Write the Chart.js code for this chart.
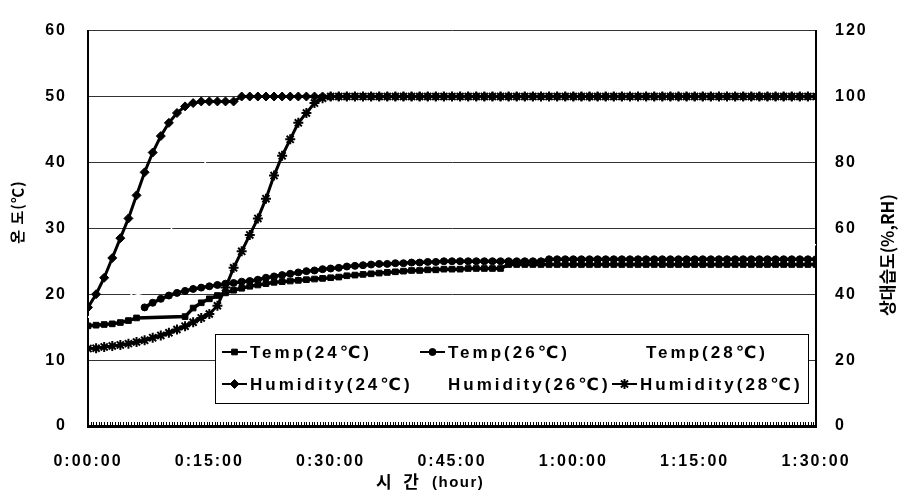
<!DOCTYPE html>
<html>
<head>
<meta charset="utf-8">
<script src="https://cdn.jsdelivr.net/npm/chart.js@4/dist/chart.umd.min.js"></script>
<style>
  html, body { margin: 0; padding: 0; background: #fff; }
  canvas { display: block; }
</style>
</head>
<body>
<canvas id="chart" width="900" height="496"></canvas>
<script>
// elapsed time in minutes
const minutes = [0,1,2,3,4,5,6,7,8,9,10,11,12,13,14,15,16,17,18,19,20,21,22,23,24,25,26,27,28,29,30,31,32,33,34,35,36,37,38,39,40,41,42,43,44,45,46,47,48,49,50,51,52,53,54,55,56,57,58,59,60,61,62,63,64,65,66,67,68,69,70,71,72,73,74,75,76,77,78,79,80,81,82,83,84,85,86,87,88,89,90];

// temperature, left axis (℃)
const temp24 = [15.2,15.3,15.4,15.5,15.7,16.0,16.4,null,null,null,null,null,16.6,17.9,18.7,19.3,19.8,20.2,20.6,20.9,
  21.2,21.4,21.6,21.8,21.9,22.0,22.1,22.2,22.3,22.4,22.5,22.6,22.8,22.9,23.0,23.1,23.2,23.3,23.4,23.5,
  23.6,23.6,23.7,23.7,23.8,23.8,23.8,23.9,23.9,23.9,23.9,23.9,
  24.5,24.5,24.5,24.5,24.5,24.5,24.5,24.5,24.5,24.5,
  24.5,24.5,24.5,24.5,24.5,24.5,24.5,24.5,24.5,24.5,
  24.5,24.5,24.5,24.5,24.5,24.5,24.5,24.5,24.5,24.5,
  24.5,24.5,24.5,24.5,24.5,24.5,24.5,24.5,24.5];
const temp26 = [null,null,null,null,null,null,null,
  18.0,18.7,19.3,19.8,20.2,20.5,20.8,21.0,21.2,21.4,
  21.6,21.7,21.9,22.0,22.2,22.5,22.7,22.9,23.1,23.3,
  23.5,23.6,23.8,23.9,24.0,24.2,24.3,24.4,24.5,24.6,
  24.6,24.7,24.7,24.8,24.8,24.9,24.9,25.0,25.0,25.0,
  25.0,25.0,25.0,25.0,25.0,25.0,25.0,25.0,25.0,25.0,
  25.3,25.3,25.3,25.3,25.3,25.3,25.3,25.3,25.3,25.3,
  25.3,25.3,25.3,25.3,25.3,25.3,25.3,25.3,25.3,25.3,
  25.3,25.3,25.3,25.3,25.3,25.3,25.3,25.3,25.3,25.3,
  25.3,25.3,25.3,25.3];
const temp28 = [16.5,17.3,18.0,18.6,19.1,19.5,19.9,20.2,20.5,20.7,20.9,
  21.1,21.3,21.5,21.6,21.8,21.9,22.0,22.1,22.2,22.3,
  22.4,22.5,22.6,22.7,22.8,22.9,23.0,23.1,23.2,23.3,
  23.5,23.7,23.9,24.2,24.5,24.9,25.3,25.6,25.9,26.1,
  26.3,26.4,26.5,26.6,26.7,26.8,26.9,27.0,27.0,27.1,
  27.1,27.2,27.2,27.3,27.3,27.3,27.4,27.4,27.4,27.4,
  27.5,27.5,27.5,27.5,27.5,27.5,27.5,27.5,27.5,27.5,
  27.5,27.5,27.5,27.5,27.5,27.5,27.5,27.5,27.5,27.5,
  27.5,27.5,27.5,27.5,27.5,27.5,27.5,27.5,27.5,27.5];

// relative humidity, right axis (%RH)
const hum24 = [36,40,45,51,57,63,70,77,83,88,92,95,97,98,98.5,98.5,98.5,98.5,98.5,
  100,100,100,100,100,100,100,100,100,100,
  100,100,100,100,100,100,100,100,100,100,
  100,100,100,100,100,100,100,100,100,100,
  100,100,100,100,100,100,100,100,100,100,
  100,100,100,100,100,100,100,100,100,100,
  100,100,100,100,100,100,100,100,100,100,
  100,100,100,100,100,100,100,100,100,100,
  100,100];
const hum26 = [33,34,35,36,37.5,39,41.5,45,49,54,58.5,63,68,73,78,82,85,88,90.5,92.5,94,95.5,96.5,97.5,98.5,99.5,
  100,100,100,100,100,100,100,100,100,100,
  100,100,100,100,100,100,100,100,100,100,
  100,100,100,100,100,100,100,100,100,100,
  100,100,100,100,100,100,100,100,100,100,
  100,100,100,100,100,100,100,100,100,100,
  100,100,100,100,100,100,100,100,100,100,
  100,100,100,100,100];
const hum28 = [23.5,23.6,24,24.3,24.6,25,25.5,26,26.8,27.5,28.3,29.3,30.3,31.5,32.8,34,36.5,42,48,53,
  58,63,69,76,82,87,92,95,98,99.5,
  100,100,100,100,100,100,100,100,100,100,
  100,100,100,100,100,100,100,100,100,100,
  100,100,100,100,100,100,100,100,100,100,
  100,100,100,100,100,100,100,100,100,100,
  100,100,100,100,100,100,100,100,100,100,
  100,100,100,100,100,100,100,100,100,100,
  100];

const seriesNames = ['Temp(24℃)', 'Temp(26℃)', 'Temp(28℃)', 'Humidity(24℃)', 'Humidity(26℃)', 'Humidity(28℃)'];
const xTickStep = 15;
const leftTitle = '온 도(℃)';
const rightTitle = '상대습도(%,RH)';

function fmtTime(m) {
  const h = Math.floor(m / 60);
  const mm = m % 60;
  return h + ':' + String(mm).padStart(2, '0') + ':00';
}

function pts(values) {
  return values.map((v, i) => ({ x: minutes[i], y: v }));
}

const tickFont = { family: '"Liberation Sans", Arial, sans-serif', size: 16, weight: 'bold' };
const SPACING = '2px';

function series(label, values, axis, style, extra) {
  return Object.assign({
    label: label,
    data: pts(values),
    yAxisID: axis,
    borderColor: '#000',
    backgroundColor: '#000',
    borderWidth: 3.5,
    pointStyle: style,
    pointRadius: 4,
    pointBorderWidth: 1,
    pointHoverRadius: 0,
    tension: 0,
    order: 1
  }, extra || {});
}

function ghost(label, values, axis) {
  return {
    label: label,
    data: pts(values),
    yAxisID: axis,
    borderColor: '#fff',
    backgroundColor: '#fff',
    borderWidth: 1.5,
    pointRadius: 0,
    order: 5
  };
}

const chartDecor = {
  id: 'chartDecor',
  beforeLayout(chart) { chart.ctx.letterSpacing = SPACING; },
  beforeDraw(chart) { chart.ctx.letterSpacing = SPACING; },
  afterDraw(chart) {
    const ctx = chart.ctx;
    const xs = chart.scales.x;
    const area = chart.chartArea;

    // small inside tick marks along the time axis
    ctx.save();
    ctx.strokeStyle = '#000';
    ctx.lineWidth = 1;
    ctx.beginPath();
    for (let k = 0; k <= 270; k++) {
      const px = Math.round(xs.getPixelForValue(k / 3)) + 0.5;
      ctx.moveTo(px, area.bottom);
      ctx.lineTo(px, area.bottom - 4);
    }
    ctx.stroke();
    ctx.restore();

    // legend box inside the plot
    ctx.save();
    ctx.letterSpacing = '3px';
    ctx.fillStyle = '#fff';
    ctx.fillRect(215, 334, 593, 69);
    ctx.strokeStyle = '#000';
    ctx.lineWidth = 1;
    ctx.strokeRect(215.5, 334.5, 593, 69);
    const slots = [[222, 352], [420, 352], [618, 352], [222, 384], [420, 384], [612, 384]];
    ctx.font = 'bold 17px "Liberation Sans", "DejaVu Sans", sans-serif';
    ctx.textBaseline = 'middle';
    chart.data.datasets.forEach((ds, i) => {
      const [sx, sy] = slots[i];
      ctx.strokeStyle = ds.borderColor;
      ctx.fillStyle = ds.borderColor;
      ctx.lineWidth = 2;
      ctx.beginPath();
      ctx.moveTo(sx, sy);
      ctx.lineTo(sx + 25, sy);
      ctx.stroke();
      if (ds.pointRadius > 0) {
        ctx.lineWidth = ds.pointBorderWidth || 1;
        Chart.helpers.drawPoint(ctx, { pointStyle: ds.pointStyle, radius: ds.pointRadius, borderWidth: ds.pointBorderWidth || 1 }, sx + 12.5, sy);
      }
      ctx.fillStyle = '#000';
      ctx.fillText(ds.label, sx + 28, sy + 1);
    });
    ctx.restore();

    // axis titles
    ctx.save();
    ctx.letterSpacing = '1px';
    ctx.fillStyle = '#000';
    ctx.textAlign = 'center';
    ctx.textBaseline = 'middle';
    ctx.font = 'bold 15px "Noto Sans CJK KR", sans-serif';
    ctx.translate(17, 212);
    ctx.rotate(-Math.PI / 2);
    ctx.fillText(leftTitle, 0, 0);
    ctx.restore();

    ctx.save();
    ctx.letterSpacing = '0px';
    ctx.fillStyle = '#000';
    ctx.textAlign = 'center';
    ctx.textBaseline = 'middle';
    ctx.font = 'bold 17px "Noto Sans CJK KR", sans-serif';
    ctx.translate(888, 255);
    ctx.rotate(-Math.PI / 2);
    ctx.fillText(rightTitle, 0, 0);
    ctx.restore();

    ctx.save();
    ctx.letterSpacing = '0px';
    ctx.fillStyle = '#000';
    ctx.textBaseline = 'middle';
    ctx.textAlign = 'left';
    ctx.font = 'bold 17px "Noto Sans CJK KR", sans-serif';
    ctx.fillText('시   간', 376, 482);
    ctx.letterSpacing = '1.5px';
    ctx.font = 'bold 15px "Liberation Sans", sans-serif';
    ctx.fillText('(hour)', 432, 483);
    ctx.restore();
  }
};

new Chart(document.getElementById('chart'), {
  type: 'line',
  data: {
    datasets: [
      series(seriesNames[0], temp24, 'y', 'rect', { spanGaps: true }),
      series(seriesNames[1], temp26, 'y', 'circle', { pointRadius: 3.5 }),
      ghost(seriesNames[2], temp28, 'y'),
      series(seriesNames[3], hum24, 'y1', 'rectRot', { pointRadius: 4.5, borderWidth: 3 }),
      ghost(seriesNames[4], hum26, 'y1'),
      series(seriesNames[5], hum28, 'y1', 'star', { pointRadius: 5, pointBorderWidth: 2, borderWidth: 3 })
    ]
  },
  options: {
    responsive: false,
    animation: false,
    events: [],
    layout: { padding: { top: 16, left: 0, right: 0, bottom: 0 } },
    plugins: {
      legend: { display: false },
      tooltip: { enabled: false }
    },
    scales: {
      x: {
        type: 'linear',
        min: 0,
        max: 90,
        afterFit(scale) { scale.height = 70; },
        grid: { display: false },
        border: { display: true, color: '#000', width: 3 },
        ticks: {
          stepSize: xTickStep,
          autoSkip: false,
          maxRotation: 0,
          padding: 18,
          color: '#000',
          font: tickFont,
          callback: (v) => fmtTime(v)
        }
      },
      y: {
        position: 'left',
        min: 0,
        max: 60,
        afterFit(scale) { scale.width = 88; },
        grid: { color: '#333', lineWidth: 1, drawTicks: false },
        border: { display: true, color: '#000', width: 2 },
        ticks: { stepSize: 10, padding: 21, color: '#000', font: tickFont }
      },
      y1: {
        position: 'right',
        min: 0,
        max: 120,
        afterFit(scale) { scale.width = 84; },
        grid: { drawOnChartArea: false, drawTicks: false },
        border: { display: true, color: '#000', width: 2 },
        ticks: { stepSize: 20, padding: 19, color: '#000', font: tickFont }
      }
    }
  },
  plugins: [chartDecor]
});
</script>
</body>
</html>
